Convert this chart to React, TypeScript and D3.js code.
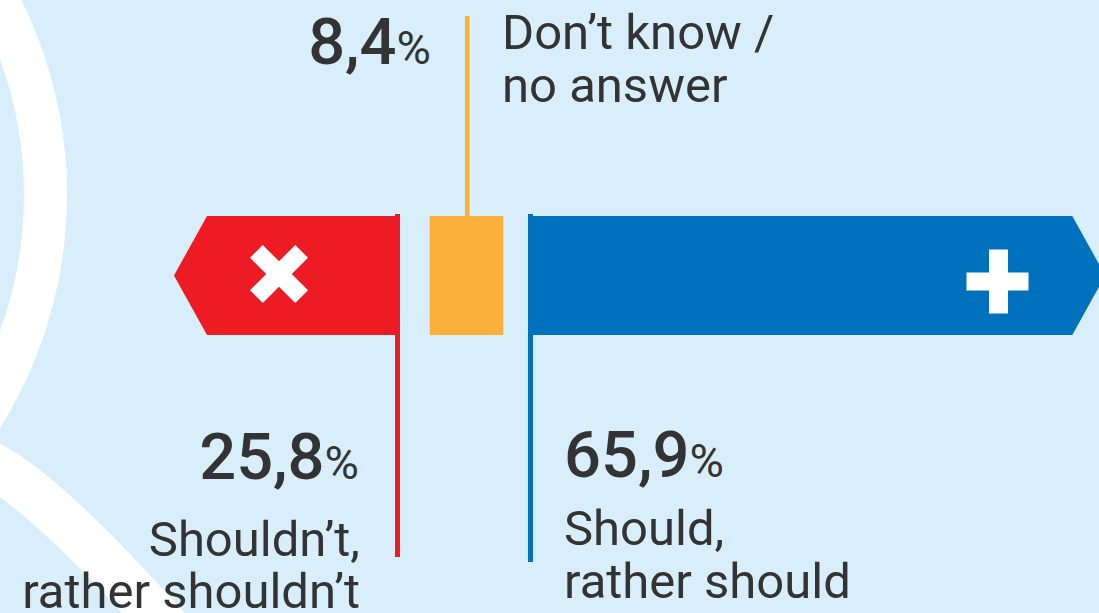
import React from "react";
import * as d3 from "d3";

// ---- data ----
const categories = ["no", "dk", "yes"];
const values = [25.8, 8.4, 65.9];
const labelLines = [
  ["Shouldn’t,", "rather shouldn’t"],
  ["Don’t know /", "no answer"],
  ["Should,", "rather should"],
];

const W = 1099;
const H = 613;
const BG = "#d9eefb";
const RED = "#ed1c24";
const ORANGE = "#fbb03b";
const BLUE = "#0071bc";
const TEXT = "#333333";
const FONT = "Roboto, 'Noto Sans', sans-serif";

const locale = d3.formatLocale({ decimal: ",", thousands: ".", grouping: [3], currency: ["", "%"] });
const fmt = locale.format(".1f");

export default function App() {
  const x = d3.scaleLinear().domain([0, 100]).range([0, 876]);
  const y = d3.scaleBand().domain(["bar"]).range([216, 335]);
  const top = y("bar") as number;
  const bh = y.bandwidth();
  const bottom = top + bh;
  const mid = top + bh / 2;
  const tip = 33;

  // horizontal anchors
  const redRight = 400;
  const blueLeft = 528;
  const orangeCenter = 466.5;

  const redLeft = redRight - x(values[0]);
  const blueRight = blueLeft + x(values[2]);
  const oW = x(values[1]);
  const oLeft = orangeCenter - oW / 2;

  const redPath = d3.path();
  redPath.moveTo(redLeft, mid);
  redPath.lineTo(redLeft + tip, top);
  redPath.lineTo(redRight, top);
  redPath.lineTo(redRight, bottom);
  redPath.lineTo(redLeft + tip, bottom);
  redPath.closePath();

  const bluePath = d3.path();
  bluePath.moveTo(blueLeft, top);
  bluePath.lineTo(blueRight - tip, top);
  bluePath.lineTo(blueRight, mid);
  bluePath.lineTo(blueRight - tip, bottom);
  bluePath.lineTo(blueLeft, bottom);
  bluePath.closePath();

  // X icon
  const xc = [279, 274];
  const armL = 64;
  const armT = 18;
  // plus icon
  const pc = [997.5, 281.5];
  const plusW = 62;
  const plusH = 64;
  const plusT = 18;

  const num = (v: number, xPos: number, yPos: number, anchor: string) => (
    <text x={xPos} y={yPos} textAnchor={anchor} fill={TEXT} fontFamily={FONT}>
      <tspan fontSize={65} fontWeight={500}>{fmt(v)}</tspan>
      <tspan fontSize={47} fontWeight={400}>%</tspan>
    </text>
  );

  const lbl = (lines: string[], xPos: number, y0: number, anchor: string, lh: number) => (
    <text textAnchor={anchor} fill={TEXT} fontFamily={FONT} fontSize={49}>
      {lines.map((l, i) => (
        <tspan key={i} x={xPos} y={y0 + i * lh}>{l}</tspan>
      ))}
    </text>
  );

  return (
    <svg
      width={W}
      height={H}
      style={{ position: "absolute", left: 0, top: 0, display: "block" }}
    >
      <rect width={W} height={H} fill={BG} />
      {/* decorative magnifier */}
      <circle cx={-371.5} cy={195} r={417} fill="none" stroke="#ffffff" strokeWidth={43} />
      <path d="M -40 447 L 0 470 Q 58 505 178 640" fill="none" stroke="#ffffff" strokeWidth={46} />

      {/* leader lines */}
      <rect x={redRight - 5} y={214} width={5} height={557 - 214} fill={RED} />
      <rect x={blueLeft} y={214} width={5} height={562 - 214} fill={BLUE} />
      <rect x={orangeCenter - 1.5} y={16} width={4.5} height={top - 16 + 2} fill={ORANGE} />

      {/* bars */}
      <path d={redPath.toString()} fill={RED} />
      <rect x={oLeft} y={top} width={oW} height={bh} fill={ORANGE} />
      <path d={bluePath.toString()} fill={BLUE} />

      {/* icons */}
      <g transform={`translate(${xc[0]},${xc[1]}) rotate(45)`} fill="#ffffff">
        <rect x={-armL / 2} y={-armT / 2} width={armL} height={armT} />
        <rect x={-armT / 2} y={-armL / 2} width={armT} height={armL} />
      </g>
      <g transform={`translate(${pc[0]},${pc[1]})`} fill="#ffffff">
        <rect x={-plusW / 2} y={-plusT / 2} width={plusW} height={plusT} />
        <rect x={-plusT / 2 + 0.5} y={-plusH / 2} width={plusT + 1} height={plusH} />
      </g>

      {/* texts */}
      {num(values[1], 431, 64, "end")}
      {lbl(labelLines[1], 502, 49, "start", 53)}

      {num(values[0], 359, 479, "end")}
      {lbl(labelLines[0], 360, 556, "end", 52)}

      {num(values[2], 564, 477, "start")}
      {lbl(labelLines[2], 564, 545, "start", 53)}
    </svg>
  );
}
